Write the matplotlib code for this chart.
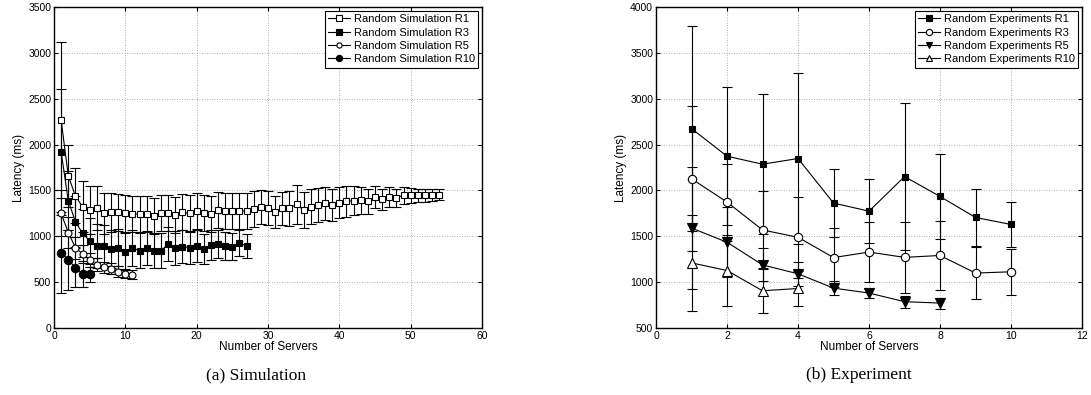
import matplotlib
matplotlib.use("Agg")
import matplotlib.pyplot as plt
import numpy as np

# ---------------- Simulation data ----------------
sim_r1 = [2266, 1660, 1440, 1322, 1290, 1304, 1250, 1261, 1261, 1250,
          1243, 1243, 1243, 1225, 1250, 1250, 1235, 1261, 1250, 1272,
          1250, 1243, 1286, 1272, 1279, 1279, 1272, 1294, 1323, 1308,
          1265, 1304, 1304, 1348, 1286, 1323, 1337, 1359, 1344, 1366,
          1380, 1388, 1391, 1380, 1428, 1402, 1428, 1420, 1446, 1446,
          1446, 1449, 1453, 1453]
sim_r1_err = [850, 340, 300, 280, 260, 240, 220, 210, 205, 200,
              200, 195, 195, 195, 195, 195, 195, 195, 195, 195,
              195, 195, 195, 195, 195, 195, 195, 195, 185, 185,
              178, 180, 190, 210, 200, 190, 185, 180, 175, 170,
              165, 155, 150, 140, 118, 115, 110, 100, 90, 80,
              75, 70, 65, 62]
sim_r3 = [1920, 1388, 1159, 1033, 949, 899, 899, 862, 877, 833,
          870, 844, 873, 844, 844, 913, 877, 888, 877, 895,
          859, 906, 913, 895, 888, 924, 895]
sim_r3_err = [690, 320, 280, 260, 250, 240, 220, 210, 200, 200,
              195, 190, 190, 190, 190, 185, 185, 180, 175, 170,
              165, 160, 155, 150, 145, 140, 130]
sim_r5 = [1250, 1040, 877, 808, 743, 688, 663, 645, 616, 590, 583]
sim_r5_err = [250, 170, 120, 100, 80, 70, 60, 60, 55, 50, 50]
sim_r10 = [822, 743, 659, 590, 587]
sim_r10_err = [440, 325, 213, 140, 80]

# ---------------- Experiment data ----------------
exp_r1 = [2674, 2373, 2286, 2348, 1862, 1774, 2151, 1934, 1705, 1629]
exp_r1_err = [1120, 750, 765, 935, 375, 350, 800, 460, 310, 250]
exp_r3 = [2127, 1873, 1569, 1489, 1268, 1328, 1270, 1291, 1099, 1113]
exp_r3_err = [790, 420, 424, 440, 320, 330, 390, 378, 285, 250]
exp_r5 = [1590, 1435, 1188, 1091, 935, 881, 787, 772]
exp_r5_err = [667, 380, 180, 130, 80, 55, 65, 60]
exp_r10 = [1210, 1127, 906, 931]
exp_r10_err = [520, 390, 243, 188]

sim_labels = ["Random Simulation R1", "Random Simulation R3",
              "Random Simulation R5", "Random Simulation R10"]
exp_labels = ["Random Experiments R1", "Random Experiments R3",
              "Random Experiments R5", "Random Experiments R10"]

plt.rcParams['font.family'] = ['Liberation Sans', 'DejaVu Sans']

fig = plt.figure(figsize=(10.91, 3.95), dpi=100)
ax1 = fig.add_axes([0.0495, 0.1696, 0.3923, 0.8127])
ax2 = fig.add_axes([0.6013, 0.1696, 0.3905, 0.8127])


def series(ax, y, err, marker, filled, ms=5):
    x = np.arange(1, len(y) + 1)
    fc = 'black' if filled else 'white'
    c = ax.errorbar(x, y, yerr=err, color='black', lw=0.8, elinewidth=0.8,
                    capsize=3.5, capthick=0.8, marker=marker, ms=ms,
                    mfc=fc, mec='black', mew=0.8, zorder=3)
    return c[0]


def style(ax, xlim, ylim, xticks, yticks):
    ax.set_xlim(*xlim)
    ax.set_ylim(*ylim)
    ax.set_xticks(xticks)
    ax.set_yticks(yticks)
    ax.grid(True, color='#999999', linestyle=(0, (1, 2)), linewidth=0.6)
    ax.set_axisbelow(True)
    ax.tick_params(direction='in', top=True, right=True, labelsize=7.5,
                   length=3, width=0.8, pad=2)
    for s in ax.spines.values():
        s.set_linewidth(1.0)
    ax.set_xlabel("Number of Servers", fontsize=8.5, labelpad=0)
    ax.set_ylabel("Latency (ms)", fontsize=8.5, labelpad=2)


def legend(ax, handles, labels):
    leg = ax.legend(handles, labels, loc='upper right', fontsize=8,
                    frameon=True, fancybox=False, edgecolor='black',
                    framealpha=1, handlelength=2.0, handletextpad=0.3,
                    borderpad=0.3, labelspacing=0.3, borderaxespad=0.35,
                    markerscale=0.75)
    leg.get_frame().set_linewidth(0.8)


h = []
h.append(series(ax1, sim_r1, sim_r1_err, 's', False))
h.append(series(ax1, sim_r3, sim_r3_err, 's', True))
h.append(series(ax1, sim_r5, sim_r5_err, 'o', False))
h.append(series(ax1, sim_r10, sim_r10_err, 'o', True, ms=6))
style(ax1, (0, 60), (0, 3500), range(0, 61, 10), range(0, 3501, 500))
legend(ax1, h, sim_labels)

h2 = []
h2.append(series(ax2, exp_r1, exp_r1_err, 's', True))
h2.append(series(ax2, exp_r3, exp_r3_err, 'o', False, ms=6))
h2.append(series(ax2, exp_r5, exp_r5_err, 'v', True, ms=6.5))
h2.append(series(ax2, exp_r10, exp_r10_err, '^', False, ms=6.5))
style(ax2, (0, 12), (500, 4000), range(0, 13, 2), range(500, 4001, 500))
legend(ax2, h2, exp_labels)

fig.text(0.2346, 0.05, "(a) Simulation", ha='center', va='center',
         fontsize=12.5, family=['Liberation Serif', 'DejaVu Serif'])
fig.text(0.787, 0.05, "(b) Experiment", ha='center', va='center',
         fontsize=12.5, family=['Liberation Serif', 'DejaVu Serif'])

fig.savefig("out.png", dpi=100)
